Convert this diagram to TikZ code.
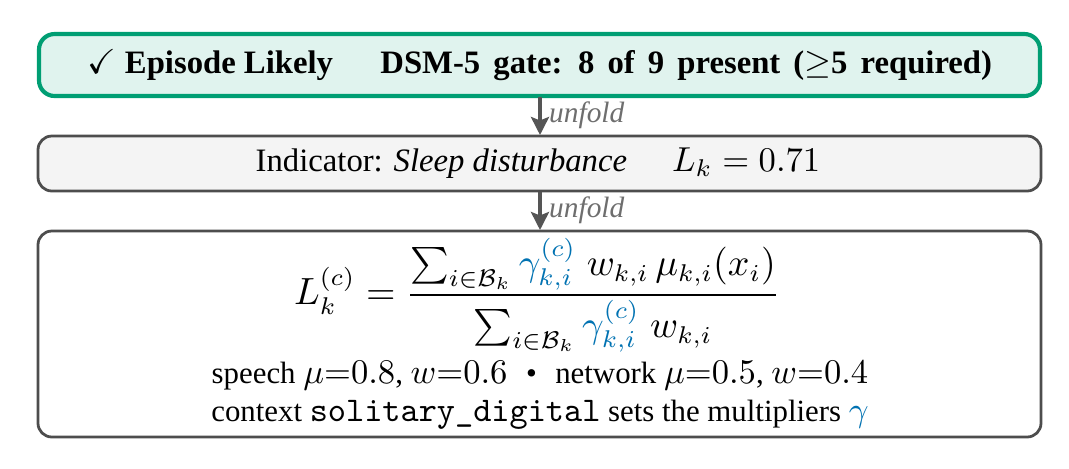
\documentclass[tikz,border=0pt]{standalone}
\usepackage{amsmath,amssymb}
\usepackage{fontspec}
\setmainfont{Liberation Serif}[Scale=0.945]
\newfontfamily\linerm{Liberation Serif}[Scale=0.9]
\usetikzlibrary{arrows.meta}
\definecolor{okgreen}{RGB}{0,158,115}
\definecolor{okblue}{RGB}{0,114,178}
\definecolor{boxgray}{RGB}{77,77,77}
\definecolor{arrgray}{RGB}{85,85,85}
\definecolor{lblgray}{RGB}{110,110,110}
\newcommand{\monotext}[1]{{\ttfamily\fontsize{10}{12}\selectfont #1}}
\begin{document}
\begin{tikzpicture}[x=0.289pt,y=-0.289pt]
\tikzset{
  gatebox/.style={draw=okgreen, fill=okgreen!12, line width=1.2pt, rounded corners=4.5pt},
  graybox/.style={draw=boxgray, fill=black!4.5, line width=0.8pt, rounded corners=4pt},
  plainbox/.style={draw=boxgray, fill=white, line width=0.8pt, rounded corners=4pt},
  unfoldarrow/.style={draw=arrgray, line width=1.1pt, -{Stealth[length=5.2pt,width=5.2pt,inset=1pt]}},
  unfoldlbl/.style={font=\small\itshape, text=lblgray, anchor=west, inner sep=1pt},
  linetext/.style={font=\fontsize{9.9}{11.5}\selectfont\linerm, inner sep=1pt}
}
\useasboundingbox (0,0) rectangle (1069,468);
% boxes
\draw[gatebox] (39,34) rectangle (1040,96);
\draw[graybox] (38,136) rectangle (1041,191);
\draw[plainbox] (38,231) rectangle (1041,437);
% anchors
\coordinate (b1) at (540,97);
\coordinate (t2) at (540,135);
\coordinate (b2) at (540,192);
\coordinate (t3) at (540,230);
% texts
\node (gate) at (540,65) {\bfseries $\checkmark$ Episode Likely\hspace{1.45em}{\spaceskip=0.4em plus 0.1em DSM-5 gate: 8 of 9 present ($\geq$5 required)}};
\node (ind) at (538,163) {Indicator: \textit{Sleep disturbance}\hspace{13pt}{\fontsize{10.4}{12}\selectfont$L_k=0.71$}};
\node (form) at (537,295) {\fontsize{10.6}{12.5}\selectfont$\displaystyle L_k^{(c)} = \frac{\sum_{i\in\mathcal{B}_k} {\color{okblue}\gamma_{k,i}^{(c)}}\; w_{k,i}\, \mu_{k,i}(x_i)}{\sum_{i\in\mathcal{B}_k} {\color{okblue}\gamma_{k,i}^{(c)}}\; w_{k,i}}$};
\node[linetext] (sp) at (540,376) {speech $\mu{=}0.8$, $w{=}0.6$\hspace{0.6em}\textbullet\hspace{0.6em}network $\mu{=}0.5$, $w{=}0.4$};
\node[linetext] (ctx) at (540,415) {context \monotext{solitary\_digital} sets the multipliers {\color{okblue}$\gamma$}};
% arrows
\draw[unfoldarrow] (b1) -- (t2);
\draw[unfoldarrow] (b2) -- (t3);
\node[unfoldlbl] (u1) at (545,115) {unfold};
\node[unfoldlbl] (u2) at (545,210) {unfold};
\end{tikzpicture}
\end{document}
